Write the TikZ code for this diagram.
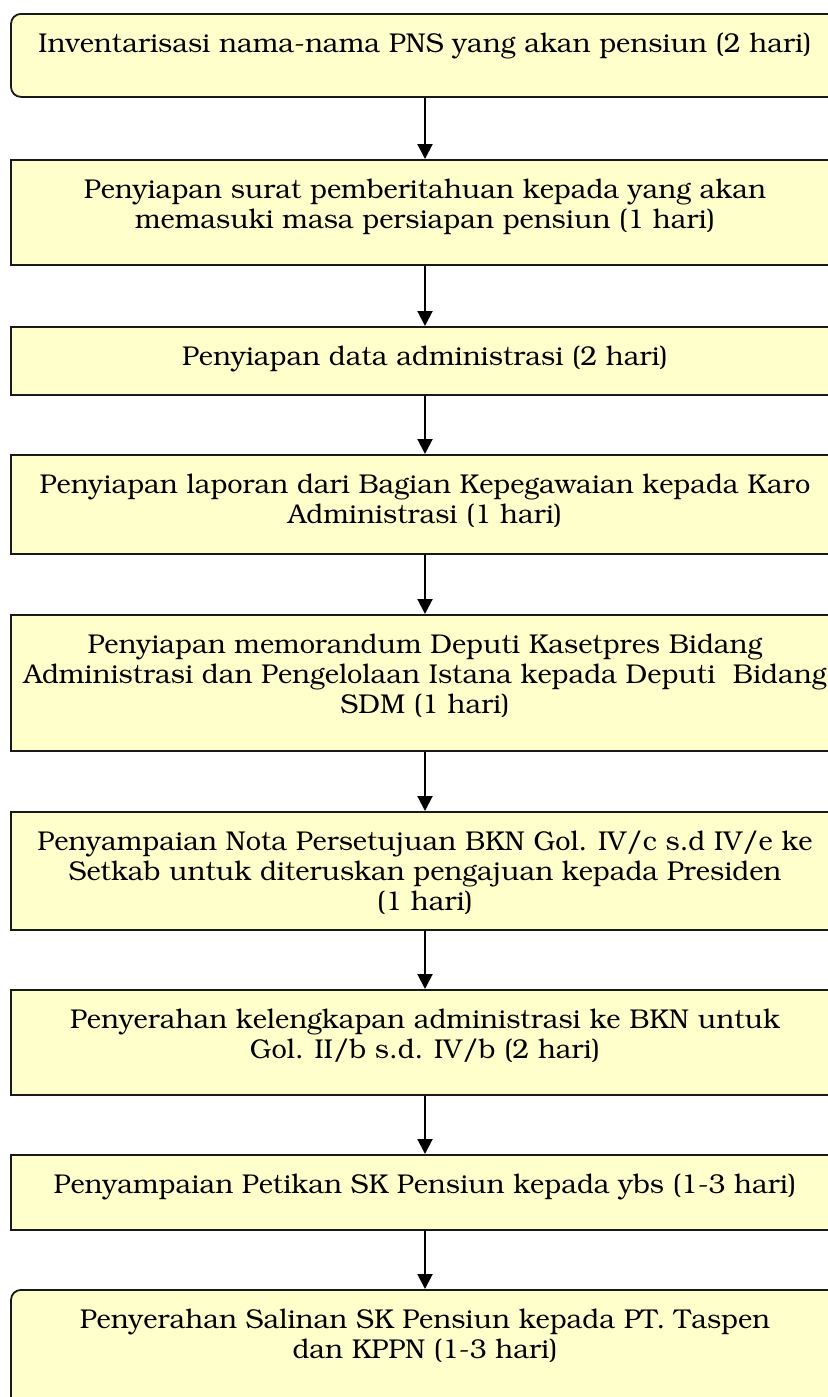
\documentclass[tikz,border=0pt]{standalone}
\usepackage[T1]{fontenc}
\usepackage{bookman}
\usetikzlibrary{arrows.meta}
\definecolor{boxfill}{HTML}{FFFFCC}
\newcommand{\steptext}[2]{\parbox[t][#1][t]{414pt}{\centering\rule{0pt}{19.5pt}#2}}

\begin{document}
\begin{tikzpicture}[x=0.5pt, y=-0.5pt,
		stepbox/.style={draw=black!90, fill=boxfill, line width=0.9pt, inner sep=0pt, anchor=north, font=\fontsize{13.6}{15}\selectfont},
		flow/.style={line width=1pt, -{Triangle[width=7.5pt, length=7.5pt]}}]
			%%%%% START %%%%%
			
			\useasboundingbox (0, 0) rectangle (828, 1397);
			\clip (0, 0) rectangle (828, 1397);
			
			\node[stepbox, rounded corners=5pt] (b1) at (425, 13) {\steptext{41.5pt}{Inventarisasi nama-nama PNS yang akan pensiun (2 hari)}};
			\node[stepbox] (b2) at (425, 159) {\steptext{52.5pt}{Penyiapan surat pemberitahuan kepada yang akan\\ memasuki masa persiapan pensiun (1 hari)}};
			\node[stepbox] (b3) at (425, 326) {\steptext{34pt}{Penyiapan data administrasi (2 hari)}};
			\node[stepbox] (b4) at (425, 454) {\steptext{49.5pt}{Penyiapan laporan dari Bagian Kepegawaian kepada Karo\\ Administrasi (1 hari)}};
			\node[stepbox] (b5) at (425, 614) {\steptext{68pt}{Penyiapan memorandum Deputi Kasetpres Bidang\\ Administrasi dan Pengelolaan Istana kepada Deputi\ \ Bidang\\ SDM (1 hari)}};
			\node[stepbox] (b6) at (425, 811) {\steptext{59pt}{Penyampaian Nota Persetujuan BKN Gol. IV/c s.d IV/e ke\\ Setkab untuk diteruskan pengajuan kepada Presiden\\ (1 hari)}};
			\node[stepbox] (b7) at (425, 989) {\steptext{52.5pt}{Penyerahan kelengkapan administrasi ke BKN untuk\\ Gol. II/b s.d. IV/b (2 hari)}};
			\node[stepbox] (b8) at (425, 1154) {\steptext{37.5pt}{Penyampaian Petikan SK Pensiun kepada ybs (1-3 hari)}};
			\node[stepbox, rounded corners=5pt] (b9) at (425, 1289) {\steptext{60pt}{Penyerahan Salinan SK Pensiun kepada PT. Taspen\\ dan KPPN (1-3 hari)}};
			
			\draw[flow] (b1) -- (b2);
			\draw[flow] (b2) -- (b3);
			\draw[flow] (b3) -- (b4);
			\draw[flow] (b4) -- (b5);
			\draw[flow] (b5) -- (b6);
			\draw[flow] (b6) -- (b7);
			\draw[flow] (b7) -- (b8);
			\draw[flow] (b8) -- (b9);
			
			%%%%% END %%%%%
\end{tikzpicture}
\end{document}
